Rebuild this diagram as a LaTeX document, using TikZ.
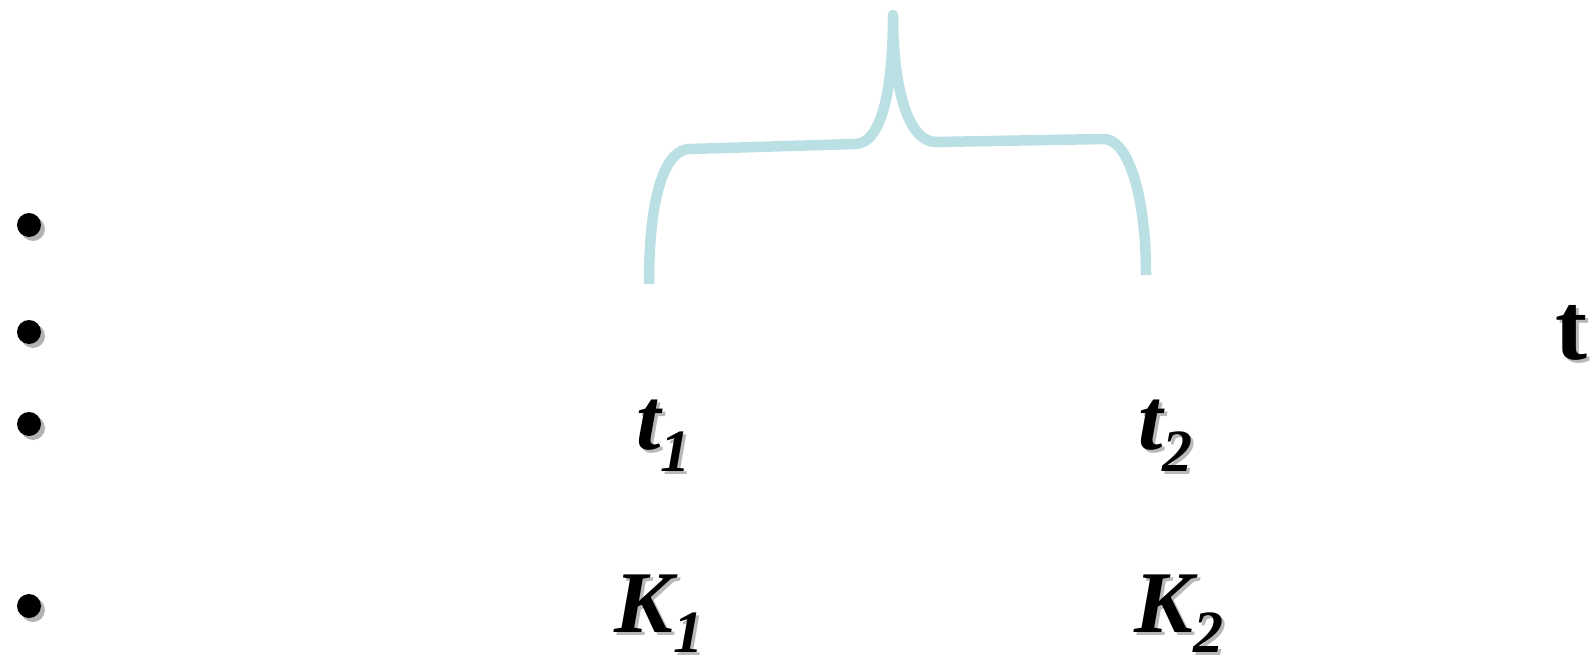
\documentclass[tikz,border=0pt]{standalone}
\usepackage{fontspec}
\setmainfont{Liberation Serif}
\usepackage{tikz}
\definecolor{bracecol}{HTML}{BBE0E3}
\tikzset{lbl/.style={anchor=base west,inner sep=0pt,font=\fontsize{44}{44}\selectfont\bfseries},
  shadowtxt/.style={text=black!28}}
\newcommand{\subtxt}[3]{{\itshape #1}\raisebox{-#3}{\fontsize{30}{30}\selectfont\itshape #2}}
\newcommand{\shlabel}[4]{\node[lbl,shadowtxt] at (#2+3,#3+3) {#4};
  \node[lbl] (#1) at (#2,#3) {#4};}
\begin{document}
\begin{tikzpicture}[x=0.5pt,y=-0.5pt]
\useasboundingbox (0,0) rectangle (1590,658);
\foreach \yy [count=\i] in {225,332,424,606}{
  \fill[black!30] (33,\yy+4) circle (12);
  \fill (29,\yy) circle (12) coordinate (bul\i);
}
\draw[bracecol,line width=5.25pt,line join=round]
  (649,284) .. controls (649,192) and (666,149) .. (690,149) -- (855,144)
  .. controls (882,144) and (893,88) .. (893,15)
  .. controls (893,88) and (908,142) .. (936,142) -- (1104,139)
  .. controls (1127,139) and (1146,192) .. (1146,275);
\shlabel{tt}{1555}{359}{\fontsize{48}{48}\selectfont t}
\shlabel{ta}{636}{449}{\subtxt{t}{1}{11pt}}
\shlabel{tb}{1138}{449}{\subtxt{t}{2}{11pt}}
\shlabel{ka}{614}{632}{\subtxt{K}{1}{10pt}}
\shlabel{kb}{1134}{632}{\subtxt{K}{2}{10pt}}
\end{tikzpicture}
\end{document}
